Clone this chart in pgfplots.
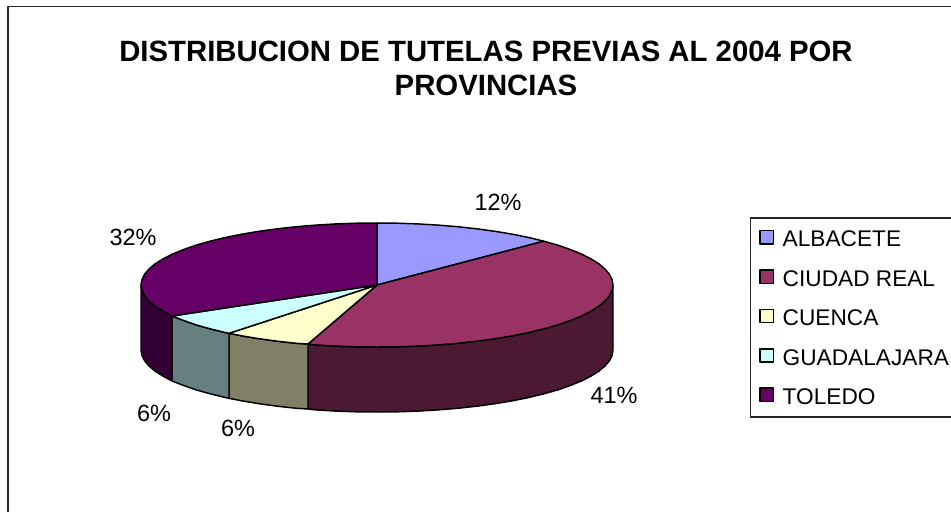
\documentclass[border=0pt]{standalone}
\usepackage{fontspec}
\setmainfont{Liberation Sans}
\usepackage{pgfplots}
\pgfplotsset{compat=1.18}
\definecolor{cA}{HTML}{9999FF}
\definecolor{cB}{HTML}{993366}
\definecolor{cC}{HTML}{FFFFCC}
\definecolor{cD}{HTML}{CCFFFF}
\definecolor{cE}{HTML}{660066}
\definecolor{sB}{HTML}{4C1933}
\definecolor{sC}{HTML}{808066}
\definecolor{sD}{HTML}{668080}
\definecolor{sE}{HTML}{330033}
\begin{document}
\begin{tikzpicture}
\useasboundingbox (0,0) rectangle (713.25pt,384pt);
\begin{axis}[
  hide axis, scale only axis, width=713.25pt, height=384pt,
  xmin=0, xmax=951, ymin=0, ymax=512, y dir=reverse, clip=false,
  legend cell align=left,
  legend style={draw=none, fill=none, at={(axis cs:759,218)}, anchor=north west,
    font=\fontsize{17}{18}\selectfont, row sep=12.2pt, inner xsep=0pt, inner ysep=7.5pt,
    /tikz/every even column/.append style={column sep=0pt}},
  legend image code/.code={\draw[#1,line width=1.1pt] (0pt,-3pt) rectangle (10pt,7pt); \path (14.5pt,0pt);},
  every axis plot/.append style={draw=black, line width=1.1pt, line join=round, mark=none},
]
% frame
\addplot[forget plot, draw=black!85, line width=0.9pt] coordinates {(8,512) (8,6.5) (951,6.5)};
% legend frame
\addplot[forget plot, draw=black!85, line width=0.8pt] coordinates {(951,218) (750.5,218) (750.5,417) (951,417)};
% sides
\addplot[forget plot, fill=sB] coordinates {(613,285) (612.1,290.4) (609.4,295.8) (605,301) (598.8,306.2) (590.9,311.2) (581.4,316) (570.3,320.5) (557.8,324.9) (543.9,328.8) (528.7,332.5) (512.4,335.8) (495,338.7) (476.7,341.2) (457.7,343.3) (438.1,344.9) (418,346.1) (397.6,346.8) (377,347) (356.4,346.8) (336,346.1) (315.9,344.9) (308,344)
 (308,409) (315.9,409.9) (336,411.1) (356.4,411.8) (377,412) (397.6,411.8) (418,411.1) (438.1,409.9) (457.7,408.3) (476.7,406.2) (495,403.7) (512.4,400.8) (528.7,397.5) (543.9,393.8) (557.8,389.9) (570.3,385.5) (581.4,381) (590.9,376.2) (598.8,371.2) (605,366) (609.4,360.8) (612.1,355.4) (613,350) (613,285)};
\addplot[forget plot, fill=sC] coordinates {(308,344) (296.3,343.3) (277.3,341.2) (259,338.7) (241.6,335.8) (229,333.3) (229,398.3) (241.6,400.8) (259,403.7) (277.3,406.2) (296.3,408.3) (308,409) (308,344)};
\addplot[forget plot, fill=sD] coordinates {(229,333.3) (225.3,332.5) (210.1,328.8) (196.2,324.9) (183.7,320.5) (172,316) (172,381) (183.7,385.5) (196.2,389.9) (210.1,393.8) (225.3,397.5) (229,398.3) (229,333.3)};
\addplot[forget plot, fill=sE] coordinates {(172,316) (163.1,311.2) (155.2,306.2) (149,301) (144.6,295.8) (141.9,290.4) (141,285) (141,350) (141.9,355.4) (144.6,360.8) (149,366) (155.2,371.2) (163.1,376.2) (172,381) (172,316)};
% top faces
\addplot[fill=cA] coordinates {(377,285) (377,223) (397.6,223.2) (418,223.9) (438.1,225.1) (457.7,226.7) (476.7,228.8) (495,231.3) (512.4,234.2) (528.7,237.5) (543.9,241.2) (377,285)};
\addlegendentry{ALBACETE}
\addplot[fill=cB] coordinates {(377,285) (543.9,241.2) (557.8,245.1) (570.3,249.5) (581.4,254) (590.9,258.8) (598.8,263.8) (605,269) (609.4,274.2) (612.1,279.6) (613,285) (612.1,290.4) (609.4,295.8) (605,301) (598.8,306.2) (590.9,311.2) (581.4,316) (570.3,320.5) (557.8,324.9) (543.9,328.8) (528.7,332.5) (512.4,335.8) (495,338.7) (476.7,341.2) (457.7,343.3) (438.1,344.9) (418,346.1) (397.6,346.8) (377,347) (356.4,346.8) (336,346.1) (315.9,344.9) (308,344) (377,285)};
\addlegendentry{CIUDAD REAL}
\addplot[fill=cC] coordinates {(377,285) (308,344) (296.3,343.3) (277.3,341.2) (259,338.7) (241.6,335.8) (229,333.3) (377,285)};
\addlegendentry{CUENCA}
\addplot[fill=cD] coordinates {(377,285) (229,333.3) (225.3,332.5) (210.1,328.8) (196.2,324.9) (183.7,320.5) (172,316) (377,285)};
\addlegendentry{GUADALAJARA}
\addplot[fill=cE] coordinates {(377,285) (172,316) (163.1,311.2) (155.2,306.2) (149,301) (144.6,295.8) (141.9,290.4) (141,285) (141.9,279.6) (144.6,274.2) (149,269) (155.2,263.8) (163.1,258.8) (172.6,254) (183.7,249.5) (196.2,245.1) (210.1,241.2) (225.3,237.5) (241.6,234.2) (259,231.3) (277.3,228.8) (296.3,226.7) (315.9,225.1) (336,223.9) (356.4,223.2) (377,223) (377,285)};
\addlegendentry{TOLEDO}
% labels
\node[font=\fontsize{17.6}{18}\selectfont] at (axis cs:498,202) {12\%};
\node[font=\fontsize{17.6}{18}\selectfont] at (axis cs:614,395) {41\%};
\node[font=\fontsize{17.6}{18}\selectfont] at (axis cs:238,428) {6\%};
\node[font=\fontsize{17.6}{18}\selectfont] at (axis cs:154,413) {6\%};
\node[font=\fontsize{17.6}{18}\selectfont] at (axis cs:133,237) {32\%};
% title
\node[font=\fontsize{22}{25.5}\selectfont\bfseries, align=center, anchor=center] at (axis cs:486,68) {DISTRIBUCION DE TUTELAS PREVIAS AL 2004 POR\\PROVINCIAS};
\end{axis}
\end{tikzpicture}
\end{document}
